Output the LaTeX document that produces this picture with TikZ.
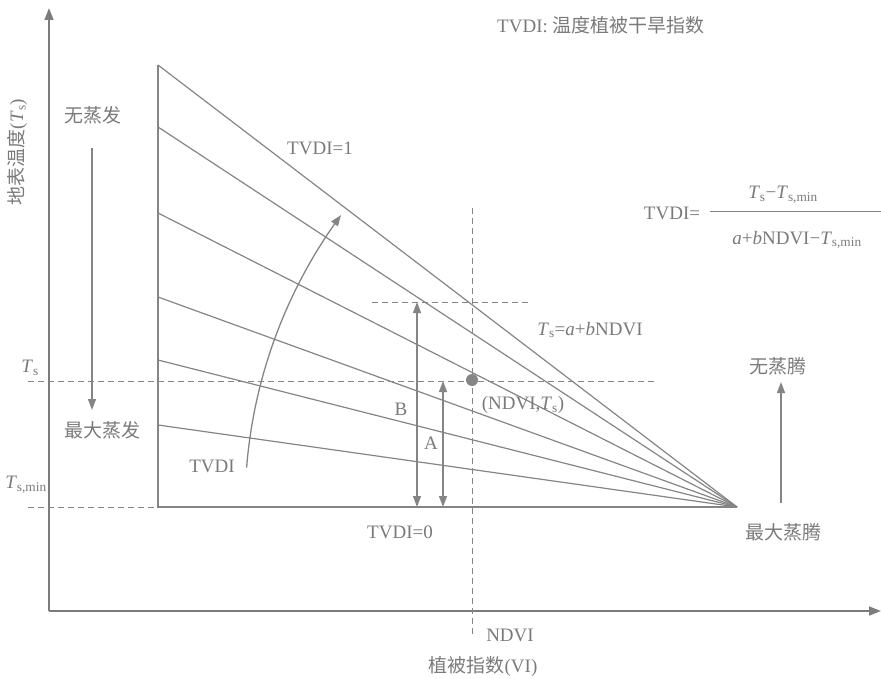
\documentclass[tikz,border=0pt]{standalone}
\usepackage{fontspec}
\setmainfont{Liberation Serif}
\newfontfamily\cjk{Noto Sans CJK SC}
\usetikzlibrary{arrows.meta}
\definecolor{lc}{HTML}{858585}
\definecolor{ac}{HTML}{7C7C7C}
\definecolor{tc}{HTML}{7A7A7A}
\tikzset{
  ln/.style={draw=lc, line width=1.2pt},
  axis/.style={draw=ac, line width=1.7pt, -{Triangle[length=12pt,width=9pt]}},
  dsh/.style={draw=lc, line width=1pt, dash pattern=on 6pt off 4pt},
  arr/.style={draw=lc, line width=1.3pt, -{Triangle[length=11pt,width=8pt]}},
  darr/.style={draw=lc, line width=1.3pt, {Triangle[length=11pt,width=8pt]}-{Triangle[length=11pt,width=8pt]}},
  lbl/.style={text=tc, inner sep=0pt, font=\fontsize{19}{22}\selectfont},
  cn/.style={text=tc, inner sep=0pt, font=\fontsize{19}{22}\selectfont\cjk},
}
\newcommand{\Ts}{\textit{T}\textsubscript{s}}
\newcommand{\Tsmin}{\textit{T}\textsubscript{s,min}}
\begin{document}
\begin{tikzpicture}[x=1pt,y=-1pt]
\useasboundingbox (0,0) rectangle (881,679);
% axes
\coordinate (O) at (49,611);
\coordinate (ytop) at (49,8);
\coordinate (xend) at (881,611);
\draw[axis] (O) -- (ytop);
\draw[axis] (O) -- (xend);
% triangle
\coordinate (apex) at (737,507);
\coordinate (L1) at (158,65);
\coordinate (L2) at (158,127);
\coordinate (L3) at (158,213);
\coordinate (L4) at (158,297);
\coordinate (L5) at (158,360);
\coordinate (L6) at (158,425);
\coordinate (L7) at (158,507);
\draw[ln] (L1) -- (L7) -- (apex);
\foreach \i in {1,...,6} {\draw[ln] (L\i) -- (apex);}
% dashed lines
\coordinate (tsL) at (28,381);
\coordinate (tsR) at (656,381);
\coordinate (tmL) at (28,507);
\coordinate (vT) at (472,208);
\coordinate (vB) at (472,636);
\coordinate (bL) at (372,302);
\coordinate (bR) at (531,302);
\draw[dsh] (tsL) -- (tsR);
\draw[dsh] (tmL) -- (L7);
\draw[dsh] (vT) -- (vB);
\draw[dsh] (bL) -- (bR);
% point
\fill[lc] (472,380) circle[radius=6pt];
\node (pt) at (472,380) {};
% A and B arrows
\coordinate (Bt) at (417,302);
\coordinate (Bb) at (417,507);
\coordinate (At) at (443,381);
\coordinate (Ab) at (443,507);
\draw[darr] (Bb) -- (Bt);
\draw[darr] (Ab) -- (At);
% TVDI arc
\draw[arr] plot[domain=175.4:143.6, samples=50, smooth] ({737+492*cos(\x)},{507-492*sin(\x)});
% left evaporation arrow
\coordinate (e1) at (92,148);
\coordinate (e2) at (92,410);
\draw[arr] (e1) -- (e2);
% right transpiration arrow
\coordinate (t1) at (781,503);
\coordinate (t2) at (781,382);
\draw[arr] (t1) -- (t2);
% labels
\node[lbl, anchor=west] (title) at (497,25) {TVDI: {\cjk 温度植被干旱指数}};
\node[lbl, rotate=90] (ylab) at (17,152) {{\cjk 地表温度}(\Ts)};
\node[lbl] (xlab) at (483,666) {{\cjk 植被指数}(VI)};
\node[lbl] (ndvi) at (510,635) {NDVI};
\node[lbl] (tvdi1) at (320,148) {TVDI=1};
\node[lbl] (tvdi0) at (400,532) {TVDI=0};
\node[lbl] (tvdic) at (212,466) {TVDI};
\node[lbl] (lineeq) at (590,330) {\Ts=\textit{a}+\textit{b}NDVI};
\node[lbl] (ptlab) at (523,405) {(NDVI,\Ts)};
\node[lbl] (blab) at (401,409) {B};
\node[lbl] (alab) at (431,443) {A};
\node[cn] (noevap) at (93,115) {无蒸发};
\node[cn] (maxevap) at (102,430) {最大蒸发};
\node[cn] (notrans) at (778,366) {无蒸腾};
\node[cn] (maxtrans) at (783,532) {最大蒸腾};
\node[lbl] (tslab) at (30,368) {\Ts};
\node[lbl] (tsminlab) at (26,485) {\Tsmin};
% formula
\node[lbl] (fl) at (672,213) {TVDI=};
\coordinate (fracL) at (710,212);
\coordinate (fracR) at (881,212);
\draw[ln, line width=1pt] (fracL) -- (fracR);
\node[lbl] (num) at (783,195) {\Ts−\Tsmin};
\node[lbl] (den) at (797,240) {\textit{a}+\textit{b}NDVI−\Tsmin};
\end{tikzpicture}
\end{document}
